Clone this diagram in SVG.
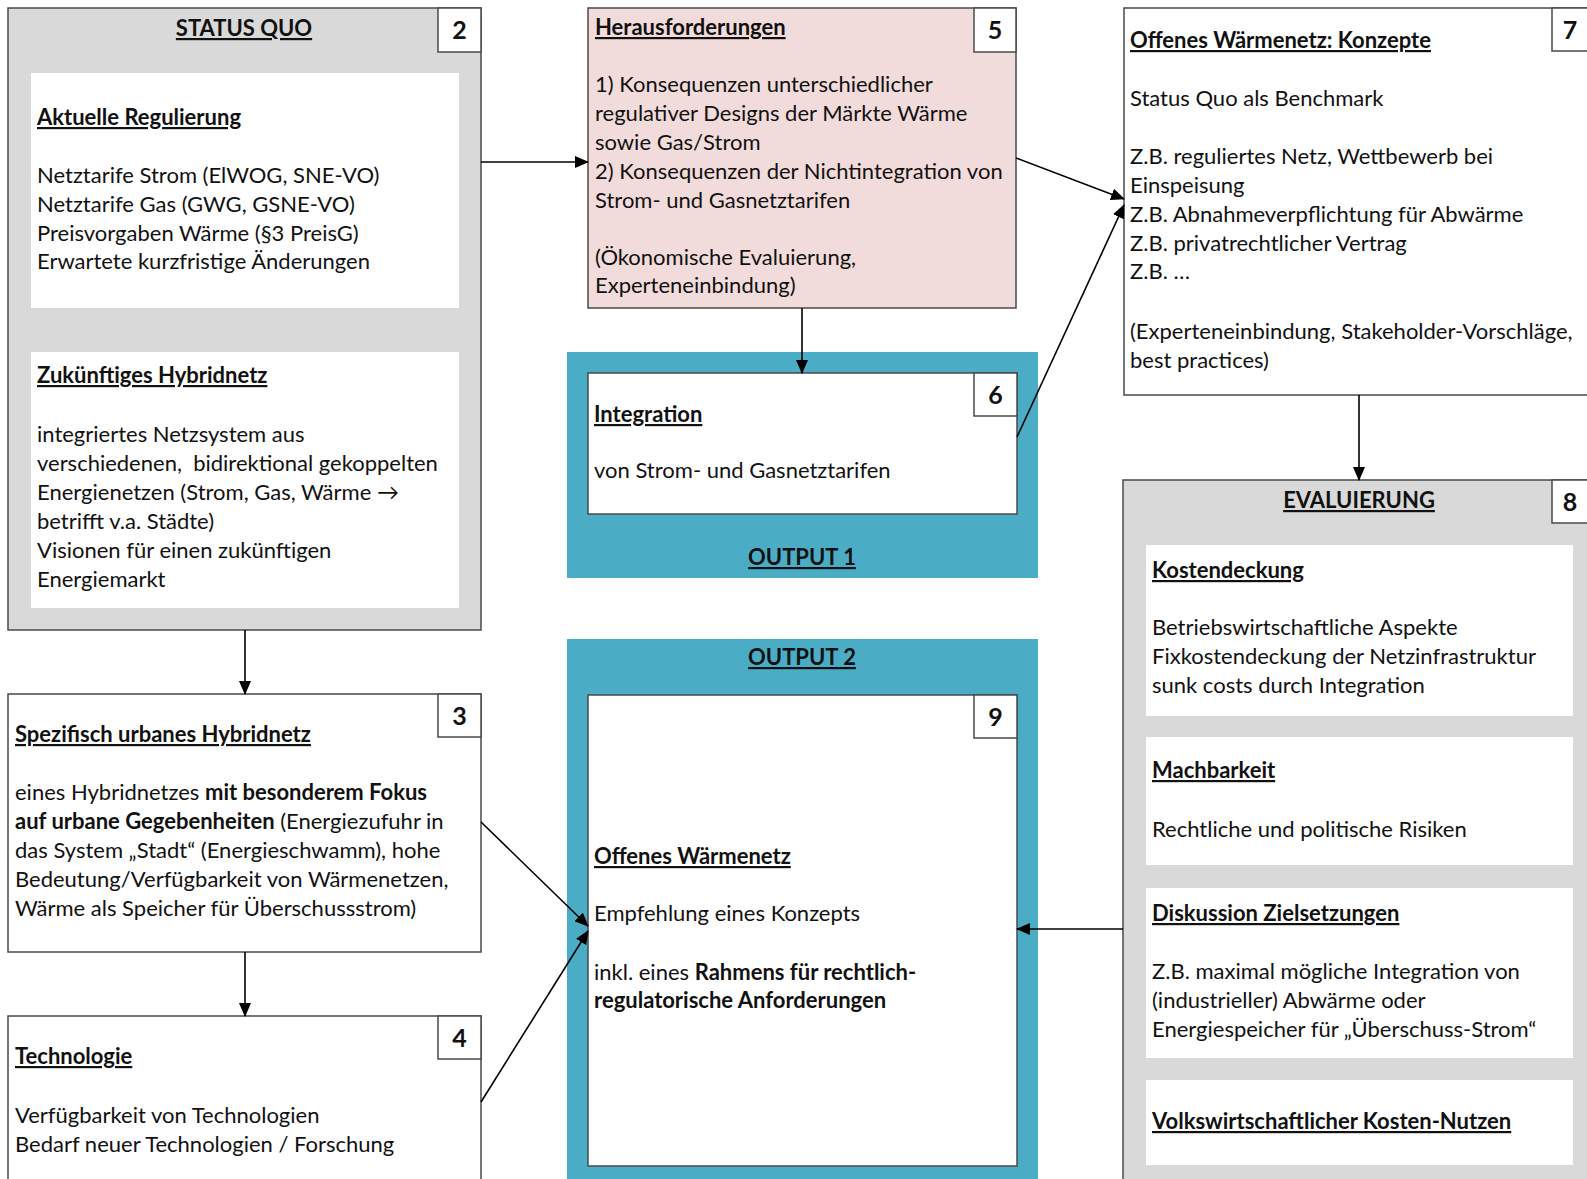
<svg xmlns="http://www.w3.org/2000/svg" width="1587" height="1179" viewBox="0 0 1587 1179">
<defs>
<marker id="arr" markerUnits="userSpaceOnUse" markerWidth="14" markerHeight="12" refX="13" refY="6" orient="auto">
<path d="M0,0 L14,6 L0,12 z" fill="#000"/>
</marker>
<style>
.box{stroke:#4a4a4a;stroke-width:1.5}
.gray{fill:#d9d9d9}
.white{fill:#fff}
.pink{fill:#f2dcdb}
.blue{fill:#4bacc6}
.inner{fill:#fff;stroke:none}
text{font-family:Lato,"Liberation Sans",sans-serif;font-size:22px;fill:#111}
.h{font-weight:bold;text-decoration:underline}
.b{font-weight:bold}
.num{font-weight:bold;font-size:25px;text-anchor:middle}
.mid{text-anchor:middle}
.conn{stroke:#000;stroke-width:1.6;fill:none;marker-end:url(#arr)}
</style>
</defs>

<g id="node-2">
<rect class="box gray" x="8" y="8" width="473" height="622"/>
<rect class="box white" x="438" y="8" width="43" height="44"/>
<text class="num" x="459.5" y="39">2</text>
<text class="h mid" x="244" y="36">STATUS QUO</text>
<rect class="inner" x="31" y="73" width="428" height="235"/>
<text class="h" x="37" y="125">Aktuelle Regulierung</text>
<text x="37" y="183">Netztarife Strom (ElWOG, SNE-VO)</text>
<text x="37" y="212">Netztarife Gas (GWG, GSNE-VO)</text>
<text x="37" y="241">Preisvorgaben Wärme (§3 PreisG)</text>
<text x="37" y="269">Erwartete kurzfristige Änderungen</text>
<rect class="inner" x="31" y="352" width="428" height="256"/>
<text class="h" x="37" y="383">Zukünftiges Hybridnetz</text>
<text x="37" y="442">integriertes Netzsystem aus</text>
<text x="37" y="471" xml:space="preserve">verschiedenen,  bidirektional gekoppelten</text>
<text x="37" y="500">Energienetzen (Strom, Gas, Wärme →</text>
<text x="37" y="529">betrifft v.a. Städte)</text>
<text x="37" y="558">Visionen für einen zukünftigen</text>
<text x="37" y="587">Energiemarkt</text>
</g>

<g id="node-3">
<rect class="box white" x="8" y="694" width="473" height="258"/>
<rect class="box white" x="438" y="694" width="43" height="43"/>
<text class="num" x="459.5" y="725">3</text>
<text class="h" x="15" y="742">Spezifisch urbanes Hybridnetz</text>
<text x="15" y="800">eines Hybridnetzes <tspan class="b">mit besonderem Fokus</tspan></text>
<text x="15" y="829"><tspan class="b">auf urbane Gegebenheiten</tspan> (Energiezufuhr in</text>
<text x="15" y="858">das System „Stadt“ (Energieschwamm), hohe</text>
<text x="15" y="887">Bedeutung/Verfügbarkeit von Wärmenetzen,</text>
<text x="15" y="916">Wärme als Speicher für Überschussstrom)</text>
</g>

<g id="node-4">
<rect class="box white" x="8" y="1016" width="473" height="175"/>
<rect class="box white" x="438" y="1016" width="43" height="43"/>
<text class="num" x="459.5" y="1047">4</text>
<text class="h" x="15" y="1064">Technologie</text>
<text x="15" y="1123">Verfügbarkeit von Technologien</text>
<text x="15" y="1152">Bedarf neuer Technologien / Forschung</text>
</g>

<g id="node-5">
<rect class="box pink" x="588" y="8" width="428" height="300"/>
<rect class="box white" x="974" y="8" width="42" height="44"/>
<text class="num" x="995" y="39">5</text>
<text class="h" x="595" y="35">Herausforderungen</text>
<text x="595" y="92">1) Konsequenzen unterschiedlicher</text>
<text x="595" y="121">regulativer Designs der Märkte Wärme</text>
<text x="595" y="150">sowie Gas/Strom</text>
<text x="595" y="179">2) Konsequenzen der Nichtintegration von</text>
<text x="595" y="208">Strom- und Gasnetztarifen</text>
<text x="595" y="265">(Ökonomische Evaluierung,</text>
<text x="595" y="293">Experteneinbindung)</text>
</g>

<g id="output-1">
<rect class="blue" x="567" y="352" width="471" height="226"/>
<text class="h mid" x="802" y="565">OUTPUT 1</text>
</g>

<g id="node-6">
<rect class="box white" x="588" y="373" width="429" height="141"/>
<rect class="box white" x="974" y="373" width="43" height="43"/>
<text class="num" x="995.5" y="404">6</text>
<text class="h" x="594" y="422">Integration</text>
<text x="594" y="478">von Strom- und Gasnetztarifen</text>
</g>

<g id="output-2">
<rect class="blue" x="567" y="639" width="471" height="545"/>
<text class="h mid" x="802" y="665">OUTPUT 2</text>
</g>

<g id="node-9">
<rect class="box white" x="588" y="695" width="429" height="471"/>
<rect class="box white" x="974" y="695" width="43" height="43"/>
<text class="num" x="995.5" y="726">9</text>
<text class="h" x="594" y="864">Offenes Wärmenetz</text>
<text x="594" y="921">Empfehlung eines Konzepts</text>
<text x="594" y="980">inkl. eines <tspan class="b">Rahmens für rechtlich-</tspan></text>
<text class="b" x="594" y="1008">regulatorische Anforderungen</text>
</g>

<g id="node-7">
<rect class="box white" x="1124" y="8" width="470" height="387"/>
<rect class="box white" x="1552" y="8" width="42" height="43"/>
<text class="num" x="1570" y="39">7</text>
<text class="h" x="1130" y="48">Offenes Wärmenetz: Konzepte</text>
<text x="1130" y="106">Status Quo als Benchmark</text>
<text x="1130" y="164">Z.B. reguliertes Netz, Wettbewerb bei</text>
<text x="1130" y="193">Einspeisung</text>
<text x="1130" y="222">Z.B. Abnahmeverpflichtung für Abwärme</text>
<text x="1130" y="251">Z.B. privatrechtlicher Vertrag</text>
<text x="1130" y="279">Z.B. …</text>
<text x="1130" y="339">(Experteneinbindung, Stakeholder-Vorschläge,</text>
<text x="1130" y="368">best practices)</text>
</g>

<g id="node-8">
<rect class="box gray" x="1123" y="480" width="471" height="710"/>
<rect class="box white" x="1552" y="480" width="42" height="43"/>
<text class="num" x="1570" y="511">8</text>
<text class="h mid" x="1359" y="508">EVALUIERUNG</text>
<rect class="inner" x="1146" y="545" width="427" height="171"/>
<text class="h" x="1152" y="578">Kostendeckung</text>
<text x="1152" y="635">Betriebswirtschaftliche Aspekte</text>
<text x="1152" y="664">Fixkostendeckung der Netzinfrastruktur</text>
<text x="1152" y="693">sunk costs durch Integration</text>
<rect class="inner" x="1146" y="737" width="427" height="128"/>
<text class="h" x="1152" y="778">Machbarkeit</text>
<text x="1152" y="837">Rechtliche und politische Risiken</text>
<rect class="inner" x="1146" y="888" width="427" height="170"/>
<text class="h" x="1152" y="921">Diskussion Zielsetzungen</text>
<text x="1152" y="979">Z.B. maximal mögliche Integration von</text>
<text x="1152" y="1008">(industrieller) Abwärme oder</text>
<text x="1152" y="1037">Energiespeicher für „Überschuss-Strom“</text>
<rect class="inner" x="1146" y="1080" width="427" height="85"/>
<text class="h" x="1152" y="1129">Volkswirtschaftlicher Kosten-Nutzen</text>
</g>

<g id="connectors">
<line class="conn" x1="481" y1="162" x2="588" y2="162"/>
<line class="conn" x1="245" y1="630" x2="245" y2="694"/>
<line class="conn" x1="245" y1="952" x2="245" y2="1016"/>
<line class="conn" x1="802" y1="308" x2="802" y2="373"/>
<line class="conn" x1="1016" y1="158" x2="1124" y2="199"/>
<line class="conn" x1="1017" y1="437" x2="1124" y2="205"/>
<line class="conn" x1="1359" y1="395" x2="1359" y2="480"/>
<line class="conn" x1="481" y1="822" x2="588" y2="926"/>
<line class="conn" x1="481" y1="1102" x2="588" y2="931"/>
<line class="conn" x1="1123" y1="929" x2="1017" y2="929"/>
</g>
</svg>
